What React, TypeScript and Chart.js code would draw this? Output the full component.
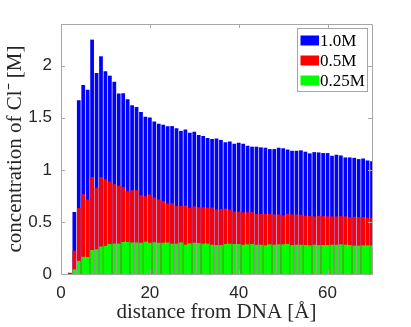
import React, { useEffect, useRef } from "react";
import { Chart, registerables } from "chart.js";

Chart.register(...registerables);

const distances = [
  2, 3, 4, 5, 6, 7, 8, 9, 10, 11, 12, 13, 14, 15, 16, 17, 18, 19, 20, 21, 22, 23, 24, 25, 26, 27, 28, 29, 30,
  31, 32, 33, 34, 35, 36, 37, 38, 39, 40, 41, 42, 43, 44, 45, 46, 47, 48, 49, 50, 51, 52, 53, 54, 55, 56, 57,
  58, 59, 60, 61, 62, 63, 64, 65, 66, 67, 68, 69, 70,
];

const conc10 = [
  0.01, 0.595, 1.668, 1.814, 1.768, 2.25, 1.93, 2.09, 1.946, 1.904, 1.846, 1.733, 1.736, 1.678, 1.62, 1.603,
  1.555, 1.51, 1.503, 1.465, 1.442, 1.432, 1.419, 1.42, 1.4, 1.374, 1.387, 1.355, 1.365, 1.335, 1.326, 1.306,
  1.296, 1.3, 1.287, 1.264, 1.271, 1.251, 1.261, 1.251, 1.232, 1.222, 1.222, 1.216, 1.212, 1.199, 1.199, 1.212,
  1.207, 1.195, 1.183, 1.183, 1.187, 1.174, 1.158, 1.17, 1.167, 1.161, 1.161, 1.135, 1.145, 1.138, 1.119, 1.119,
  1.115, 1.103, 1.109, 1.09, 1.083,
];

const conc05 = [
  0.012, 0.223, 0.634, 0.766, 0.715, 0.931, 0.828, 0.931, 0.909, 0.889, 0.863, 0.847, 0.834, 0.795, 0.805, 0.805,
  0.757, 0.747, 0.763, 0.734, 0.715, 0.701, 0.676, 0.678, 0.653, 0.653, 0.656, 0.634, 0.65, 0.64, 0.64, 0.637,
  0.637, 0.621, 0.624, 0.627, 0.618, 0.598, 0.598, 0.592, 0.592, 0.595, 0.576, 0.576, 0.576, 0.576, 0.572, 0.572,
  0.563, 0.579, 0.572, 0.572, 0.569, 0.559, 0.556, 0.553, 0.559, 0.556, 0.553, 0.553, 0.553, 0.556, 0.553, 0.546,
  0.55, 0.546, 0.546, 0.54, 0.54,
];

const conc025 = [
  0, 0.045, 0.126, 0.165, 0.163, 0.23, 0.237, 0.265, 0.27, 0.288, 0.292, 0.292, 0.307, 0.307, 0.303, 0.303,
  0.3, 0.31, 0.3, 0.305, 0.3, 0.3, 0.302, 0.291, 0.291, 0.304, 0.281, 0.294, 0.3, 0.297, 0.291, 0.291, 0.281,
  0.278, 0.278, 0.288, 0.291, 0.288, 0.288, 0.281, 0.285, 0.288, 0.281, 0.281, 0.275, 0.285, 0.281, 0.285,
  0.285, 0.288, 0.278, 0.281, 0.281, 0.278, 0.275, 0.281, 0.278, 0.278, 0.278, 0.281, 0.281, 0.285, 0.281,
  0.278, 0.272, 0.272, 0.275, 0.275, 0.275,
];

const seriesLabels = ["1.0M", "0.5M", "0.25M"];
const seriesColors = ["#0000ff", "#ff0000", "#00ff00"];
const xTickValues = [0, 20, 40, 60];
const yTickValues = [0, 0.5, 1, 1.5, 2];

const AXIS_COLOR = "#a6a6a6";
const TEXT_COLOR = "#262626";

const boxPlugin = {
  id: "matlabBox",
  afterDraw(chart: any) {
    const { ctx, chartArea } = chart;
    const { left, right, top, bottom } = chartArea;
    const xs = chart.scales.x;
    const ys = chart.scales.y;
    ctx.save();
    ctx.strokeStyle = AXIS_COLOR;
    ctx.lineWidth = 1;
    ctx.beginPath();
    ctx.rect(Math.round(left) + 0.5, Math.round(top) + 0.5, Math.round(right - left), Math.round(bottom - top));
    ctx.stroke();
    const tl = 4;
    ctx.beginPath();
    xTickValues.forEach((v) => {
      const px = Math.round(xs.getPixelForValue(v)) + 0.5;
      ctx.moveTo(px, bottom);
      ctx.lineTo(px, bottom - tl);
      ctx.moveTo(px, top);
      ctx.lineTo(px, top + tl);
    });
    yTickValues.forEach((v) => {
      const py = Math.round(ys.getPixelForValue(v)) + 0.5;
      ctx.moveTo(left, py);
      ctx.lineTo(left + tl, py);
      ctx.moveTo(right, py);
      ctx.lineTo(right - tl, py);
    });
    ctx.stroke();

    // legend box inside the axes (top-right)
    const bx = right - 75;
    const by = top + 4;
    const bw = 70;
    const bh = 63;
    ctx.fillStyle = "#ffffff";
    ctx.fillRect(bx, by, bw, bh);
    ctx.strokeStyle = AXIS_COLOR;
    ctx.strokeRect(Math.round(bx) + 0.5, Math.round(by) + 0.5, bw, bh);
    ctx.font = "17px 'Liberation Serif', serif";
    ctx.textBaseline = "middle";
    ctx.textAlign = "left";
    chart.data.datasets.forEach((ds: any, i: number) => {
      const cy = by + 12.5 + i * 20;
      ctx.fillStyle = ds.backgroundColor;
      ctx.fillRect(bx + 3.5, cy - 5, 18.5, 10);
      ctx.fillStyle = "#000000";
      ctx.fillText(ds.label, bx + 23, cy + 1);
    });
    ctx.restore();
  },
};

export default function App() {
  const canvasRef = useRef<HTMLCanvasElement | null>(null);

  useEffect(() => {
    document.body.style.margin = "0";
    const canvas = canvasRef.current;
    if (!canvas) return;
    const makeData = (vals: number[]) => distances.map((d, i) => ({ x: d, y: vals[i] }));
    const allSeries = [conc10, conc05, conc025];
    const chart = new Chart(canvas, {
      type: "bar",
      data: {
        datasets: allSeries.map((vals, i) => ({
          label: seriesLabels[i],
          data: makeData(vals),
          backgroundColor: seriesColors[i],
          borderWidth: 0,
          grouped: false,
          order: 3 - i,
          barPercentage: 0.84,
          categoryPercentage: 1,
        })),
      },
      options: {
        responsive: false,
        animation: false,
        layout: { padding: { top: 24, right: 39, left: 0, bottom: 0 } },
        plugins: {
          legend: { display: false },
          tooltip: { enabled: false },
        },
        scales: {
          x: {
            type: "linear",
            min: 0,
            max: 70,
            offset: false,
            grid: { display: false, drawTicks: false },
            border: { display: false },
            ticks: {
              stepSize: 20,
              includeBounds: false,
              padding: 9,
              maxRotation: 0,
              color: TEXT_COLOR,
              font: { family: "'Liberation Sans', Arial, sans-serif", size: 17 },
              callback: (v: any) => String(Number(v)),
            },
            title: {
              display: true,
              text: "distance from DNA [Å]",
              color: TEXT_COLOR,
              padding: { top: 0, bottom: 2 },
              font: { family: "'Liberation Serif', serif", size: 21 },
            },
            afterFit: (scale: any) => {
              scale.height = 53;
            },
          },
          y: {
            type: "linear",
            min: 0,
            max: 2.4,
            grid: { display: false, drawTicks: false },
            border: { display: false },
            ticks: {
              stepSize: 0.5,
              includeBounds: false,
              padding: 9,
              color: TEXT_COLOR,
              font: { family: "'Liberation Sans', Arial, sans-serif", size: 17 },
              callback: (v: any) => String(Number(v)),
            },
            title: {
              display: true,
              text: "concentration of Cl⁻ [M]",
              color: TEXT_COLOR,
              padding: { top: 3, bottom: 0 },
              font: { family: "'Liberation Serif', serif", size: 21 },
            },
            afterFit: (scale: any) => {
              scale.width = 61;
            },
          },
        },
      },
      plugins: [boxPlugin],
    });
    return () => chart.destroy();
  }, []);

  return (
    <div style={{ width: 411, height: 327, background: "#ffffff" }}>
      <canvas ref={canvasRef} width={411} height={327} />
    </div>
  );
}
